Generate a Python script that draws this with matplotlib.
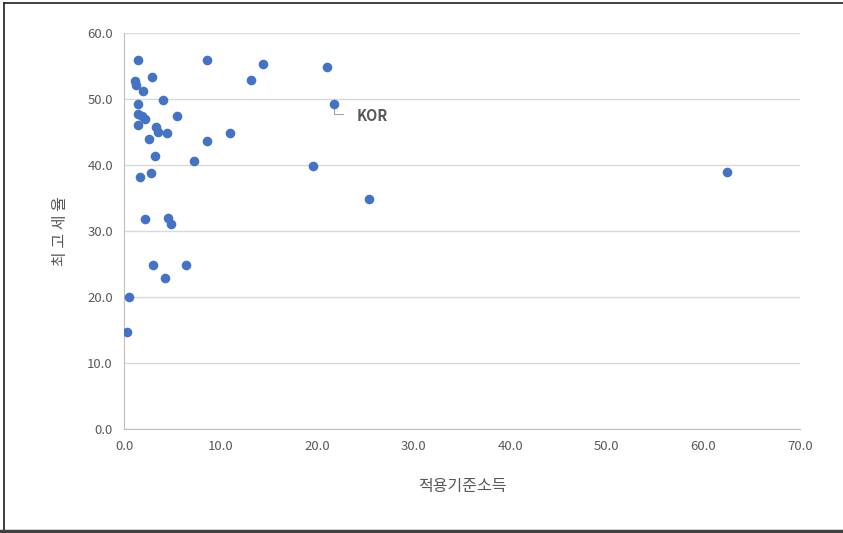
import matplotlib.pyplot as plt
from matplotlib.lines import Line2D

plt.rcParams['font.family'] = ['Noto Sans CJK KR', 'DejaVu Sans']

# 적용기준소득 (x) / 최고세율 (y)
income = [1.45, 8.64, 14.36, 21.0, 13.15, 2.87, 1.14, 1.27, 2.0, 4.0,
          1.45, 21.7, 1.45, 1.83, 2.14, 5.49, 1.45, 3.34, 3.55, 4.48,
          11.0, 2.59, 8.62, 3.18, 7.25, 19.57, 62.4, 2.76, 1.69, 25.4,
          2.14, 4.59, 4.9, 3.0, 6.39, 4.21, 0.55, 0.28]
top_rate = [55.9, 55.9, 55.3, 54.8, 52.9, 53.4, 52.8, 52.1, 51.2, 49.9,
            49.3, 49.2, 47.8, 47.4, 47.0, 47.4, 46.1, 45.8, 45.0, 44.8,
            44.8, 44.0, 43.6, 41.4, 40.6, 39.9, 38.9, 38.8, 38.2, 34.8,
            31.8, 31.9, 31.0, 24.8, 24.8, 22.9, 20.0, 14.7]
kor_index = 11

x_ticks = [0, 10, 20, 30, 40, 50, 60, 70]
y_ticks = [0, 10, 20, 30, 40, 50, 60]

grey_text = '#595959'

fig = plt.figure(figsize=(8.43, 5.33), dpi=100)
ax = fig.add_axes([0.1471, 0.1951, 0.802, 0.743])

ax.scatter(income, top_rate, s=48, color='#4472C4', zorder=3, linewidths=0)

ax.set_xlim(0, 70)
ax.set_ylim(0, 60)
ax.set_xticks(x_ticks)
ax.set_yticks(y_ticks)
ax.set_xticklabels([f'{v:.1f}' for v in x_ticks])
ax.set_yticklabels([f'{v:.1f}' for v in y_ticks])
ax.tick_params(length=0, labelsize=9.5, labelcolor=grey_text, pad=8)

ax.grid(axis='y', color='#d9d9d9', linewidth=1)
ax.set_axisbelow(True)
for side in ['top', 'right']:
    ax.spines[side].set_visible(False)
for side in ['left', 'bottom']:
    ax.spines[side].set_color('#bfbfbf')

ax.set_xlabel('적용기준소득', fontsize=11.5, color=grey_text, labelpad=18)
ax.set_ylabel('최 고 세 율', fontsize=11.5, color=grey_text, labelpad=13)

# KOR label with Excel style leader line
kx, ky = income[kor_index], top_rate[kor_index]
ax.plot([kx + 0.05, kx + 0.05, kx + 1.0], [ky - 0.7, ky - 1.5, ky - 1.5],
        color='#a6a6a6', linewidth=0.8, zorder=2)
ax.text(kx + 2.4, ky - 1.8, 'KOR', fontsize=10.5, fontweight='bold',
        color=grey_text, va='center', ha='left')

# chart border: top, left and a heavier bottom edge, open on the right
fig.add_artist(Line2D([0.005, 1.0], [0.995, 0.995], transform=fig.transFigure,
                      color='#202020', linewidth=1.2))
fig.add_artist(Line2D([0.005, 0.005], [0.0, 0.995], transform=fig.transFigure,
                      color='#202020', linewidth=1.2))
fig.add_artist(Line2D([0.0, 1.0], [0.003, 0.003], transform=fig.transFigure,
                      color='#404040', linewidth=2.5))

fig.savefig('out.png', dpi=100)
